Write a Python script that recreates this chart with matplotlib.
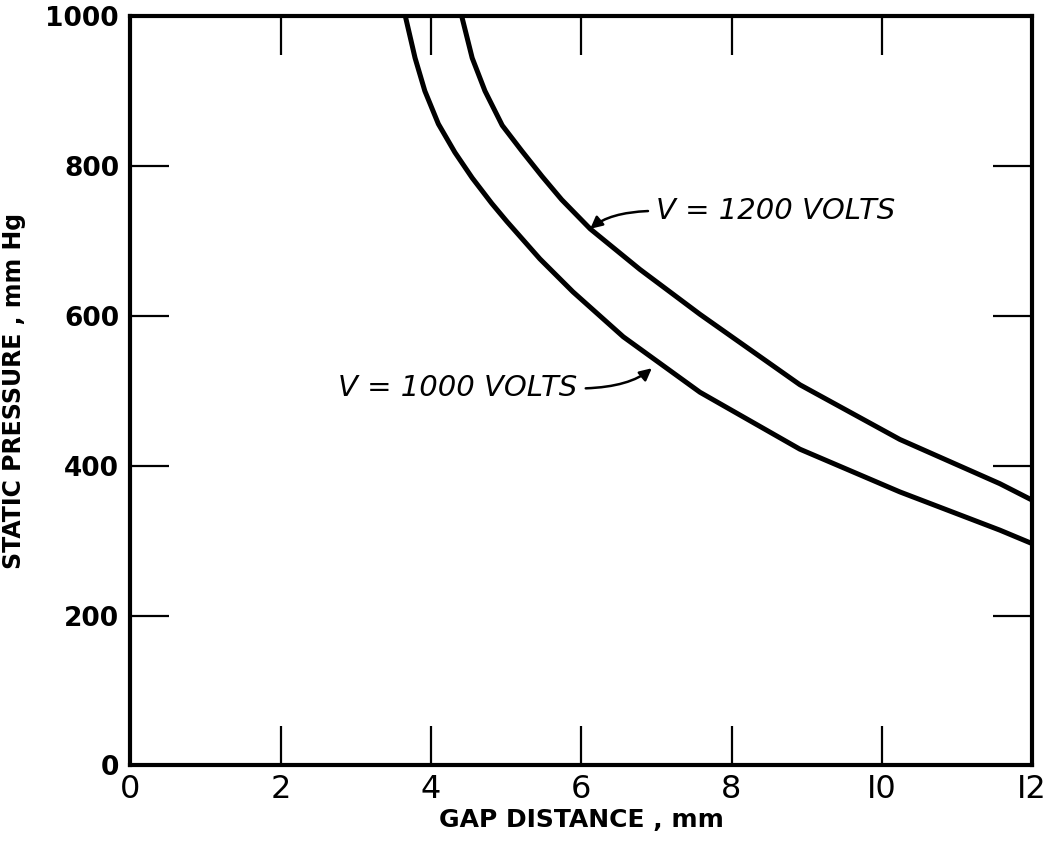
import matplotlib.pyplot as plt

# valores
gap_1000 = [3.66, 3.79, 3.92, 4.10, 4.32, 4.55, 4.81, 5.01, 5.45, 5.89, 6.56, 7.58, 8.91, 10.24, 11.57, 12.0]
p_1000 = [1000, 944, 900, 856, 818, 784, 750, 726, 676, 632, 572, 498, 422, 365, 314, 296]

gap_1200 = [4.41, 4.55, 4.72, 4.95, 5.21, 5.48, 5.74, 6.12, 6.78, 7.58, 8.91, 10.24, 11.57, 12.0]
p_1200 = [1000, 944, 900, 854, 820, 786, 755, 716, 662, 602, 508, 435, 376, 354]

x_ticks = [0, 2, 4, 6, 8, 10, 12]
x_labels = ['0', '2', '4', '6', '8', 'I0', 'I2']
y_ticks = [0, 200, 400, 600, 800, 1000]

fig = plt.figure(figsize=(10.5, 8.43), dpi=100)
ax = fig.add_axes([0.124, 0.092, 0.859, 0.889])

ax.plot(gap_1000, p_1000, color='black', lw=3.6, solid_joinstyle='round')
ax.plot(gap_1200, p_1200, color='black', lw=3.6, solid_joinstyle='round')

ax.set_xlim(0, 12)
ax.set_ylim(0, 1000)

for s in ax.spines.values():
    s.set_linewidth(3)

ax.set_xticks(x_ticks)
ax.set_xticklabels(x_labels, fontsize=23)
ax.set_yticks(y_ticks)
ax.set_yticklabels([str(v) for v in y_ticks], fontsize=19, fontweight='bold')
ax.tick_params(direction='in', length=28, width=1.6, top=True, right=True,
               labeltop=False, labelright=False)
ax.tick_params(axis='x', pad=6)
ax.tick_params(axis='y', pad=8)

ax.set_xlabel('GAP DISTANCE , mm', fontsize=18, fontweight='bold', labelpad=2)
ax.set_ylabel('STATIC PRESSURE , mm Hg', fontsize=17, fontweight='bold', labelpad=14)

# etiquetas de las curvas
ax.annotate('V = 1200 VOLTS', xy=(6.12, 716), xytext=(7.0, 740),
            fontsize=21, style='italic', ha='left', va='center',
            arrowprops=dict(arrowstyle='-|>', color='black', lw=1.8,
                            mutation_scale=18, relpos=(0, 0.5), shrinkA=4, shrinkB=0,
                            connectionstyle='angle3,angleA=0,angleB=40'))
ax.annotate('V = 1000 VOLTS', xy=(6.94, 530), xytext=(5.95, 503),
            fontsize=21, style='italic', ha='right', va='center',
            arrowprops=dict(arrowstyle='-|>', color='black', lw=1.8,
                            mutation_scale=18, relpos=(1, 0.5), shrinkA=4, shrinkB=0,
                            connectionstyle='angle3,angleA=0,angleB=40'))

plt.savefig('out.png', dpi=100)
